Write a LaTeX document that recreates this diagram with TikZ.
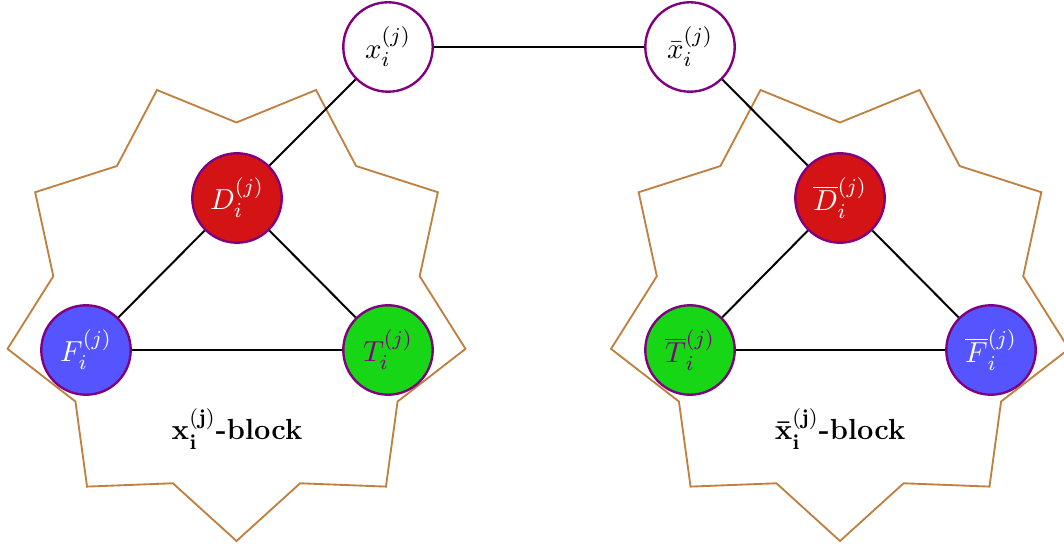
\documentclass[tikz,border=0pt]{standalone}
\usepackage{amsmath,amssymb,amsfonts}
\usepackage{xcolor}
\definecolor{rimcol}{RGB}{128,0,128}
\definecolor{dred}{RGB}{212,20,20}
\definecolor{tgreen}{RGB}{22,214,22}
\definecolor{fblue}{RGB}{85,85,255}
\definecolor{starcol}{RGB}{191,128,64}

\begin{document}
\begin{tikzpicture}[x=0.0133cm,y=0.0133cm,font=\fontsize{11}{13}\selectfont,
    vertex/.style={circle,draw=rimcol,line width=0.9pt,minimum size=1.19cm,inner sep=0pt},
    dnode/.style={vertex,fill=dred,text=white},
    tnode/.style={vertex,fill=tgreen,text=rimcol},
    fnode/.style={vertex,fill=fblue,text=white},
    starline/.style={draw=starcol,line width=0.7pt},
    edge/.style={draw=black,line width=0.75pt}]
          \useasboundingbox (0,0) rectangle (1064,548);
          \begin{scope}[shift={(236.5,239.5)}]
            \draw[starline] (270:232.5) \foreach \k in {1,...,17} {-- ({270+20*\k}:{mod(\k,2)==0 ? 232.5 : 186})} -- cycle;
          \end{scope}
          \begin{scope}[shift={(840,239.5)}]
            \draw[starline] (270:232.5) \foreach \k in {1,...,17} {-- ({270+20*\k}:{mod(\k,2)==0 ? 232.5 : 186})} -- cycle;
          \end{scope}
          \node[vertex,fill=white] (x) at (388,501) {$x_i^{(j)}$};
          \node[vertex,fill=white] (xb) at (690,501) {$\bar{x}_i^{(j)}$};
          \node[dnode] (D) at (237,350) {$D_i^{(j)}$};
          \node[fnode] (F) at (86,198) {$F_i^{(j)}$};
          \node[tnode] (T) at (388,198) {$T_i^{(j)}$};
          \node[dnode] (Db) at (840,350) {$\overline{D}_i^{(j)}$};
          \node[tnode] (Tb) at (690,198) {$\overline{T}_i^{(j)}$};
          \node[fnode] (Fb) at (991,198) {$\overline{F}_i^{(j)}$};
          \node (lbl) at (237,119) {\textbf{$\mathbf{x_i^{(j)}}$-block}};
          \node (lblb) at (840,119) {\textbf{$\mathbf{\bar{x}_i^{(j)}}$-block}};
          \draw[edge] (x) -- (xb);
          \draw[edge] (x) -- (D);
          \draw[edge] (D) -- (F);
          \draw[edge] (D) -- (T);
          \draw[edge] (F) -- (T);
          \draw[edge] (xb) -- (Db);
          \draw[edge] (Db) -- (Tb);
          \draw[edge] (Db) -- (Fb);
          \draw[edge] (Tb) -- (Fb);
        \end{tikzpicture}
\end{document}
